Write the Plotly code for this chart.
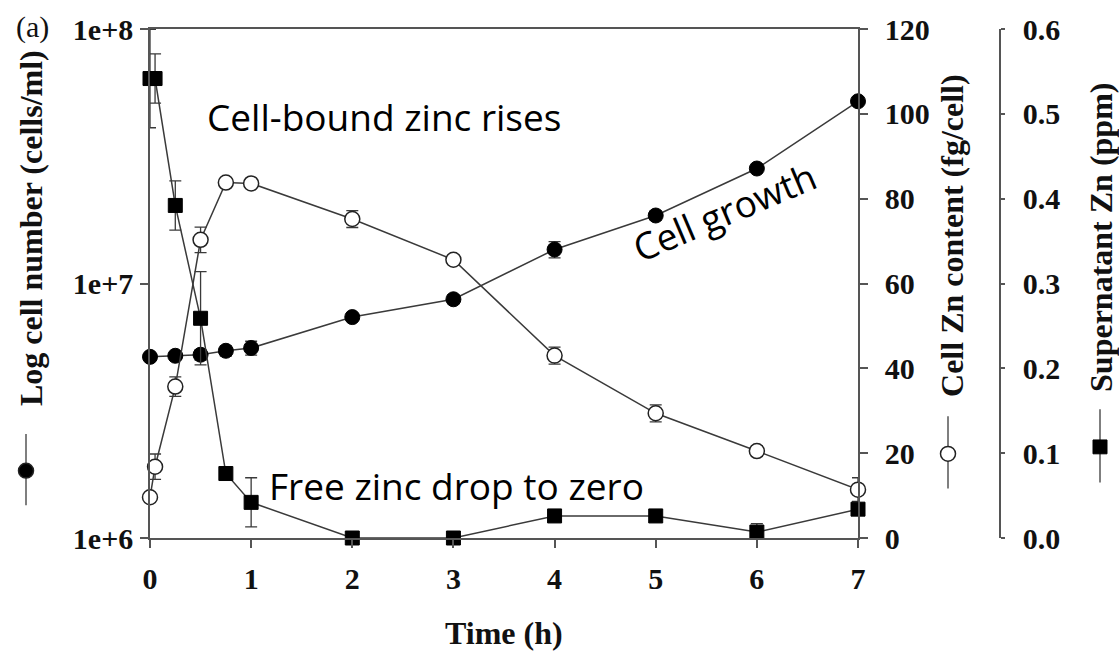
import plotly.graph_objects as go

# ---------------- data ----------------
t_cells = [0, 0.25, 0.5, 0.75, 1, 2, 3, 4, 5, 6, 7]
cells = [5.15e6, 5.2e6, 5.25e6, 5.44e6, 5.58e6, 7.38e6, 8.67e6, 1.36e7, 1.85e7, 2.83e7, 5.2e7]
cells_err = [0.1e6, 0.1e6, 0.25e6, 0.25e6, 0.35e6, 0.2e6, 0.35e6, 1.0e6, 0.8e6, 0.8e6, 1.0e6]

t_zn = [0, 0.05, 0.25, 0.5, 0.75, 1, 2, 3, 4, 5, 6, 7]
cell_zn = [9.6, 16.8, 35.7, 70.3, 83.8, 83.6, 75.2, 65.6, 43.0, 29.4, 20.5, 11.4]
cell_zn_err = [0.5, 3.0, 2.3, 3.0, 0.5, 0.5, 2.0, 1.0, 2.0, 2.0, 1.2, 2.8]

t_sup = [0, 0.05, 0.25, 0.5, 0.75, 1, 2, 3, 4, 5, 6, 7]
sup_zn = [0.5416, 0.5416, 0.392, 0.259, 0.076, 0.042, 0.0, 0.0, 0.026, 0.026, 0.007, 0.034]
sup_err = [0.058, 0.029, 0.029, 0.055, 0.0, 0.029, 0.0, 0.0, 0.0, 0.0, 0.010, 0.0]

x_ticks = [0, 1, 2, 3, 4, 5, 6, 7]
y_ticks = [1e6, 1e7, 1e8]
y_ticktext = ["1e+6", "1e+7", "1e+8"]
y2_ticks = [0, 20, 40, 60, 80, 100, 120]
y3_ticks = [0.0, 0.1, 0.2, 0.3, 0.4, 0.5, 0.6]
y3_ticktext = ["0.0", "0.1", "0.2", "0.3", "0.4", "0.5", "0.6"]

# ---------------- layout geometry ----------------
W, H = 1119, 651
L, R, T, B = 150, 1010, 24, 538   # plot-area pixel box
PW, PH = R - L, B - T


def px(x):
    return (x - L) / PW


def py(y):
    return (B - y) / PH


LINE = "#3a3a3a"
AX = "#555555"
SERIF = "Liberation Serif"
tickfont = dict(family=SERIF, size=30, color="#111", weight="bold")

fig = go.Figure()

fig.add_trace(go.Scatter(
    x=t_cells, y=cells, mode="lines+markers", yaxis="y", cliponaxis=False,
    line=dict(color=LINE, width=1.5),
    marker=dict(symbol="circle", size=15, color="#000", line=dict(color="#000", width=1)),
    error_y=dict(type="data", array=cells_err, color=LINE, thickness=1.3, width=6),
    showlegend=False))

fig.add_trace(go.Scatter(
    x=t_zn, y=cell_zn, mode="lines+markers", yaxis="y2", cliponaxis=False,
    line=dict(color=LINE, width=1.5),
    marker=dict(symbol="circle", size=15, color="#fff", line=dict(color="#222", width=1.5)),
    error_y=dict(type="data", array=cell_zn_err, color=LINE, thickness=1.3, width=6),
    showlegend=False))

fig.add_trace(go.Scatter(
    x=t_sup, y=sup_zn, mode="lines+markers", yaxis="y3", cliponaxis=False,
    line=dict(color=LINE, width=1.5),
    marker=dict(symbol="square", size=14, color="#000", line=dict(color="#000", width=1)),
    error_y=dict(type="data", array=sup_err, color=LINE, thickness=1.3, width=6),
    showlegend=False))

xdom_end = px(858)

fig.update_layout(
    width=W, height=H,
    margin=dict(l=L, r=W - R, t=T, b=H - B),
    paper_bgcolor="white", plot_bgcolor="white",
    xaxis=dict(domain=[0, xdom_end], range=[0, 7], tickvals=x_ticks,
               showgrid=False, zeroline=False, showline=True, linecolor=AX, linewidth=1.5,
               mirror=True, ticks="outside", ticklen=8, tickcolor=AX, tickwidth=1.5,
               tickfont=tickfont, ticklabelstandoff=5),
    yaxis=dict(type="log", range=[6, 8], tickvals=y_ticks, ticktext=y_ticktext,
               showgrid=False, zeroline=False, showline=True, linecolor=AX, linewidth=1.5,
               ticks="outside", ticklen=8, tickcolor=AX, tickwidth=1.5,
               tickfont=tickfont, ticklabelstandoff=1),
    yaxis2=dict(range=[0, 120], tickvals=y2_ticks, overlaying="y", side="right", anchor="x",
                showgrid=False, zeroline=False, showline=True, linecolor=AX, linewidth=1.5,
                ticks="outside", ticklen=8, tickcolor=AX, tickwidth=1.5,
                tickfont=tickfont, ticklabelstandoff=11),
    yaxis3=dict(range=[0, 0.6], tickvals=y3_ticks, ticktext=y3_ticktext, overlaying="y",
                side="right", anchor="free", position=px(1000),
                showgrid=False, zeroline=False, showline=True, linecolor=AX, linewidth=1.5,
                ticks="outside", ticklen=4, tickcolor=AX, tickwidth=1.5,
                tickfont=tickfont, ticklabelstandoff=12),
)

anns = []
titlefont = dict(family=SERIF, size=32, color="#111", weight="bold")
anns.append(dict(x=px(504), y=py(634), text="Time (h)", showarrow=False, font=titlefont))
anns.append(dict(x=px(31), y=py(225), text="Log cell number (cells/ml)", showarrow=False,
                 textangle=-90, font=titlefont))
anns.append(dict(x=px(952), y=py(233), text="Cell Zn content (fg/cell)", showarrow=False,
                 textangle=-90, font=titlefont))
anns.append(dict(x=px(1101), y=py(235), text="Supernatant Zn (ppm)", showarrow=False,
                 textangle=-90, font=titlefont))
anns.append(dict(x=px(32), y=py(22), text="(a)", showarrow=False,
                 font=dict(family=SERIF, size=30, color="#111")))
# callouts
SANS = "Open Sans"
calloutfont = dict(family=SANS, size=37, color="#000")
anns.append(dict(x=px(384), y=py(112), text="Cell-bound zinc rises", showarrow=False,
                 font=calloutfont))
anns.append(dict(x=px(456), y=py(485), text="Free zinc drop to zero", showarrow=False,
                 font=calloutfont))
anns.append(dict(x=px(724), y=py(208), text="Cell growth", showarrow=False, textangle=-23,
                 font=calloutfont))
for a in anns:
    a.update(xref="paper", yref="paper", xanchor="center", yanchor="middle")
fig.update_layout(annotations=anns)

# legend glyphs beside the axis titles
shapes = []


def glyph(cx, y0, y1, cy, kind):
    shapes.append(dict(type="line", xref="paper", yref="paper",
                       x0=px(cx), x1=px(cx), y0=py(y0), y1=py(y1),
                       line=dict(color=AX, width=1.5)))
    r = 7
    if kind == "square":
        shapes.append(dict(type="rect", xref="paper", yref="paper",
                           x0=px(cx - r), x1=px(cx + r), y0=py(cy + r), y1=py(cy - r),
                           fillcolor="#000", line=dict(color="#000", width=1)))
    else:
        fill = "#000" if kind == "filled" else "#fff"
        shapes.append(dict(type="circle", xref="paper", yref="paper",
                           x0=px(cx - r - 0.5), x1=px(cx + r + 0.5),
                           y0=py(cy + r + 0.5), y1=py(cy - r - 0.5),
                           fillcolor=fill, line=dict(color="#222", width=1.5)))


glyph(26, 433, 505, 470, "filled")
glyph(948, 415, 488, 453, "open")
glyph(1100, 408, 482, 446, "square")
fig.update_layout(shapes=shapes)

fig.write_html("out.html")
